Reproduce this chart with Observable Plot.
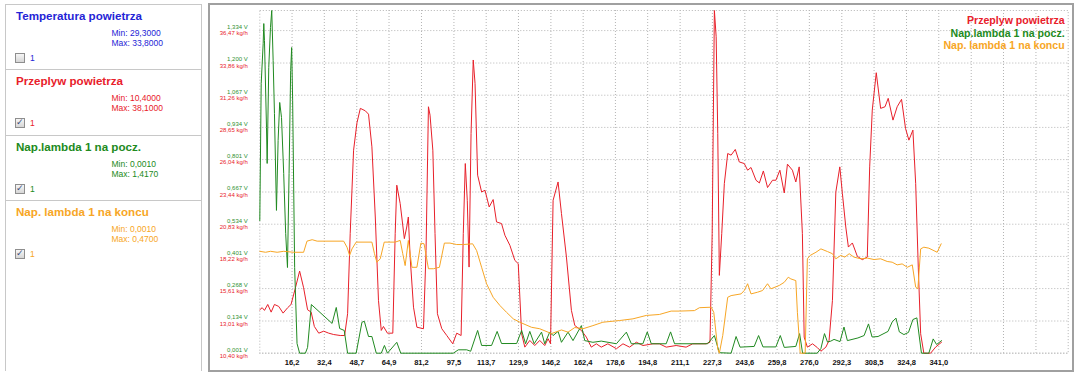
<!DOCTYPE html>
<html><head><meta charset="utf-8">
<script src="https://cdn.jsdelivr.net/npm/d3@7"></script>
<script src="https://cdn.jsdelivr.net/npm/@observablehq/plot@0.6"></script>
<style>
html,body{margin:0;padding:0;background:#fff;width:1074px;height:372px;overflow:hidden;font-family:"Liberation Sans",Arial,sans-serif;}
.abs{position:absolute;white-space:nowrap;}
#panel{position:absolute;left:5px;top:4px;width:195px;height:366px;border:1px solid #c8c8c8;border-bottom:none;}
.sep{position:absolute;left:5px;width:196px;height:0;border-top:1px solid #c8c8c8;}
.title{font-weight:bold;font-size:11.6px;line-height:13px;}
.mm{font-size:8.5px;line-height:10px;}
.cb{position:absolute;width:8px;height:8px;border:1px solid #8e8e8e;background:linear-gradient(#f6f6f6,#d6d6d6);}
.ck{position:absolute;left:0;top:-2px;font-family:"DejaVu Sans";font-size:9px;line-height:10px;color:#3b4a78;font-weight:bold;}
#frame{position:absolute;left:208px;top:3px;width:862px;height:365px;border:2px solid #a0a0a0;}
#chart{position:absolute;left:0;top:0;}
</style>
</head><body>
<div id="panel"></div>
<div id="frame"><div id="chart"></div></div>
<script>
// ---- data ----
const seriesNames = ["Temperatura powietrza", "Przeplyw powietrza", "Nap.lambda 1 na pocz.", "Nap. lambda 1 na koncu"];
const seriesMin = ["29,3000", "10,4000", "0,0010", "0,0010"];
const seriesMax = ["33,8000", "38,1000", "1,4170", "0,4700"];
const seriesChecked = [false, true, true, true];
const seriesColors = ["#2424d6", "#e8202a", "#218a21", "#f7a625"];

const xTicks = [16.2, 32.4, 48.7, 64.9, 81.2, 97.5, 113.7, 129.9, 146.2, 162.4, 178.6, 194.8, 211.1, 227.3, 243.6, 259.8, 276.0, 292.3, 308.5, 324.8, 341.0];
const xTickLabels = ["16,2","32,4","48,7","64,9","81,2","97,5","113,7","129,9","146,2","162,4","178,6","194,8","211,1","227,3","243,6","259,8","276,0","292,3","308,5","324,8","341,0"];
const xGridExtra = [357.3, 373.5, 389.8];
const vTicks = [0.001, 0.134, 0.268, 0.401, 0.534, 0.667, 0.801, 0.934, 1.067, 1.200, 1.334];
const kgTicks = [10.40, 13.01, 15.61, 18.22, 20.83, 23.44, 26.04, 28.65, 31.26, 33.86, 36.47];

// Przeplyw powietrza [time, kg/h]
const airflow = [[0,13.91],[1.2,14.08],[2.35,13.86],[4.0,14.34],[5.7,13.72],[7.36,14.34],[9.5,14.18],[11.7,13.64],[14.0,14.08],[15.7,14.34],[17.9,15.69],[20.0,17.04],[22.0,15.69],[24.0,13.91],[25.8,13.72],[27.4,12.56],[29.6,12.02],[32.1,12.18],[34.6,12.02],[37.1,11.91],[40.4,11.83],[42.6,11.83],[44.1,13.59],[45.4,20.07],[47.1,26.81],[48.8,29.02],[50.5,30.19],[53.0,29.99],[54.6,29.72],[56.3,27.08],[58.0,21.41],[59.6,14.67],[61.0,12.24],[62.1,12.56],[64.1,12.02],[66.8,12.02],[68.0,20.07],[68.8,23.98],[70.5,22.50],[72.6,19.66],[73.8,20.60],[74.6,21.41],[75.5,18.17],[77.2,14.12],[78.9,12.50],[82.2,12.38],[83.5,18.71],[84.7,30.32],[85.5,29.64],[86.9,26.81],[88.0,20.07],[89.2,13.59],[91.4,12.38],[93.9,11.83],[96.9,11.16],[98.9,12.02],[101.1,11.83],[102.2,20.07],[103.2,25.73],[104.2,22.76],[105.1,17.36],[106.1,28.16],[107.2,34.10],[108.1,32.21],[109.4,24.79],[111.4,23.43],[113.1,23.57],[115.2,22.22],[117.2,22.82],[118.9,21.01],[121.4,20.88],[123.1,19.93],[125.6,19.12],[128.1,17.90],[129.8,17.64],[131.5,11.97],[133.1,10.89],[135.6,11.43],[138.1,11.02],[140.6,11.43],[143.1,11.02],[144.8,11.57],[146.0,11.16],[147.3,22.76],[149.8,24.24],[151.5,21.69],[154.0,18.17],[156.5,13.86],[158.2,12.64],[161.5,12.24],[164.0,11.70],[166.5,10.89],[169.0,11.16],[171.5,10.89],[174.8,11.16],[179.1,10.76],[182.4,11.16],[185.7,10.89],[189.1,11.29],[192.4,11.02],[197.4,11.16],[200.7,11.16],[204.1,10.89],[209.1,11.02],[214.1,10.89],[217.4,11.16],[224.1,11.16],[226.1,11.29],[227.2,20.07],[228.3,38.10],[229.2,35.98],[230.0,28.16],[230.8,16.69],[232.0,20.07],[233.3,24.11],[235.0,26.54],[236.7,26.41],[238.8,26.87],[240.8,25.86],[243.3,25.73],[245.0,25.19],[246.7,25.41],[249.2,24.38],[250.9,24.16],[252.9,25.13],[255.0,23.79],[257.5,24.38],[259.2,24.38],[261.2,25.19],[263.4,23.35],[265.0,25.68],[267.5,25.19],[269.2,24.24],[270.9,25.46],[272.5,20.07],[273.4,11.70],[275.0,10.89],[277.6,11.16],[280.1,10.84],[281.8,10.56],[284.3,10.89],[285.9,11.43],[287.6,14.67],[289.3,23.43],[291.3,25.46],[292.6,23.30],[294.3,20.60],[295.6,18.98],[297.6,19.31],[300.1,18.23],[302.6,17.96],[305.1,18.17],[306.3,25.46],[307.6,30.05],[309.6,33.07],[311.8,30.19],[314.0,30.32],[315.6,31.00],[318.0,29.24],[320.1,30.32],[322.3,30.92],[324.3,28.57],[326.0,27.62],[328.0,28.43],[329.4,24.11],[330.7,17.36],[331.9,11.97],[333.5,10.40],[336.9,10.40],[339.4,10.89],[342.4,11.29]];

// Nap.lambda 1 na pocz. [time, V]
const lambdaStart = [[0,0.549],[0.7,1.115],[1.7,1.281],[2.0,1.363],[2.35,1.293],[3.36,0.934],[3.7,0.785],[4.5,1.182],[5.36,1.347],[6.0,1.417],[6.7,1.210],[7.36,0.991],[8.37,0.591],[9.2,0.880],[10.0,1.037],[10.9,0.975],[12.0,0.744],[13.0,0.496],[13.9,0.355],[14.7,0.744],[15.5,1.169],[16.0,1.264],[16.5,1.045],[17.5,0.355],[18.7,0.041],[20.0,0.001],[22.9,0.001],[24.0,0.025],[25.9,0.202],[36.3,0.124],[38.4,0.190],[40.1,0.103],[42.4,0.095],[44.1,0.001],[48.4,0.001],[51.3,0.129],[52.5,0.133],[54.6,0.070],[56.3,0.070],[58.5,0.001],[61.0,0.001],[62.6,0.033],[64.1,0.001],[68.8,0.046],[70.8,0.001],[97.2,0.001],[99.7,0.015],[103.9,0.015],[105.9,0.009],[109.4,0.095],[111.4,0.033],[116.4,0.033],[119.2,0.091],[121.4,0.041],[129.0,0.041],[131.5,0.095],[133.5,0.040],[135.6,0.091],[137.8,0.040],[141.5,0.088],[143.1,0.040],[145.6,0.088],[147.3,0.074],[149.8,0.091],[151.5,0.046],[154.8,0.088],[157.3,0.053],[161.5,0.115],[163.2,0.053],[167.3,0.046],[171.5,0.051],[179.1,0.040],[184.1,0.088],[186.6,0.040],[192.4,0.040],[194.6,0.089],[196.6,0.040],[204.1,0.040],[206.3,0.089],[208.3,0.040],[224.9,0.040],[228.3,0.074],[230.8,0.003],[236.7,0.001],[239.2,0.070],[241.2,0.026],[248.3,0.029],[250.5,0.074],[252.7,0.027],[259.2,0.027],[261.4,0.074],[263.4,0.025],[269.2,0.029],[271.1,0.082],[272.6,0.001],[279.9,0.001],[281.8,0.020],[283.6,0.082],[285.1,0.047],[286.8,0.051],[288.4,0.058],[291.4,0.049],[293.4,0.109],[295.1,0.053],[300.4,0.064],[303.5,0.074],[305.7,0.122],[307.5,0.068],[310.5,0.070],[315.5,0.091],[317.6,0.130],[319.5,0.146],[321.2,0.089],[323.5,0.078],[325.8,0.087],[328.0,0.140],[330.0,0.147],[332.3,0.001],[336.0,0.001],[338.2,0.060],[339.9,0.037],[342.4,0.053]];

// Nap. lambda 1 na koncu [time, V]
const lambdaEnd = [[0,0.422],[2.9,0.418],[5.4,0.422],[8.7,0.418],[12.0,0.422],[17.0,0.418],[22.0,0.418],[23.7,0.464],[26.3,0.470],[28.8,0.464],[42.1,0.464],[43.8,0.439],[45.1,0.405],[46.3,0.432],[48.4,0.460],[56.3,0.460],[57.6,0.412],[58.8,0.377],[60.5,0.391],[62.5,0.460],[68.0,0.460],[70.5,0.467],[71.8,0.412],[73.0,0.363],[74.6,0.467],[76.4,0.356],[78.9,0.356],[80.9,0.456],[82.5,0.453],[84.7,0.350],[87.2,0.350],[90.2,0.356],[92.7,0.456],[95.5,0.456],[98.9,0.450],[102.2,0.450],[106.9,0.453],[108.9,0.425],[111.4,0.356],[113.9,0.288],[117.2,0.232],[120.6,0.198],[123.9,0.170],[127.3,0.143],[130.6,0.129],[136.5,0.108],[140.6,0.102],[146.5,0.082],[151.5,0.097],[154.8,0.088],[158.2,0.107],[162.3,0.102],[167.3,0.115],[172.3,0.129],[180.7,0.136],[187.4,0.143],[194.1,0.157],[200.7,0.161],[206.6,0.175],[210.8,0.175],[218.3,0.177],[220.8,0.189],[226.7,0.191],[228.0,0.170],[230.0,0.019],[230.8,0.001],[232.5,0.074],[235.0,0.232],[236.7,0.239],[241.7,0.246],[243.3,0.260],[245.0,0.288],[246.7,0.246],[250.0,0.253],[252.5,0.260],[255.0,0.288],[256.7,0.267],[260.9,0.281],[263.4,0.294],[265.4,0.315],[266.7,0.308],[269.2,0.301],[270.0,0.170],[271.4,0.001],[273.9,0.001],[275.0,0.391],[276.4,0.405],[279.3,0.418],[281.8,0.432],[285.1,0.421],[287.6,0.412],[289.3,0.391],[291.8,0.405],[293.8,0.398],[296.0,0.412],[298.4,0.398],[301.8,0.391],[305.1,0.394],[308.5,0.388],[311.8,0.391],[315.1,0.380],[317.6,0.377],[320.1,0.366],[322.6,0.370],[325.2,0.356],[327.7,0.366],[329.4,0.274],[330.5,0.267],[331.9,0.432],[333.5,0.439],[336.0,0.435],[340.2,0.418],[342.2,0.453]];

// ---- left panel ----
const secTops = [4, 69, 135, 200];
const body = document.body;
function el(cls, css, html) {
  const d = document.createElement("div");
  d.className = cls; d.style.cssText = css; if (html != null) d.innerHTML = html;
  body.appendChild(d); return d;
}
secTops.slice(1).forEach(t => el("sep", `top:${t}px;`));
seriesNames.forEach((name, i) => {
  const s = secTops[i], c = seriesColors[i];
  el("abs title", `left:16px;top:${s + 5}px;color:${c};`, name);
  el("abs mm", `left:111.5px;top:${s + 23.5}px;color:${c};`, "Min: " + seriesMin[i]);
  el("abs mm", `left:111.5px;top:${s + 34}px;color:${c};`, "Max: " + seriesMax[i]);
  el("cb", `left:15px;top:${s + 49}px;`, seriesChecked[i] ? '<span class="ck">✓</span>' : "");
  el("abs mm", `left:30px;top:${s + 48.5}px;color:${c};`, "1");
});

// ---- chart ----
const vMin = 0.001, vMax = 1.417, kgMin = 10.4, kgMax = 38.1;
const kgToV = kg => vMin + (kg - kgMin) * (vMax - vMin) / (kgMax - kgMin);
const comma = s => s.replace(".", ",");
const gridStyle = {stroke: "#b4b4b4", strokeDasharray: "1,2", strokeWidth: 1};
const legendOffsets = [10.5, 23, 35];
const legendMarks = [1, 2, 3].map((si, k) =>
  Plot.text([seriesNames[si]], {frameAnchor: "top-right", text: d => d, fill: seriesColors[si],
    dx: -3.5, dy: legendOffsets[k], textAnchor: "end", lineAnchor: "middle", fontWeight: "bold", fontSize: 10.6})
);

const chart = Plot.plot({
  width: 862, height: 365,
  marginLeft: 49.3, marginRight: 4.3, marginTop: 5, marginBottom: 17.3,
  style: {background: "transparent", fontFamily: '"Liberation Sans", Arial, sans-serif', overflow: "visible"},
  x: {domain: [0, 406], axis: null},
  y: {domain: [vMin, vMax], axis: null},
  marks: [
    Plot.ruleY(vTicks, gridStyle),
    Plot.ruleX([...xTicks, ...xGridExtra], gridStyle),
    Plot.frame(gridStyle),
    Plot.line(airflow, {x: d => d[0], y: d => kgToV(d[1]), stroke: seriesColors[1], strokeWidth: 1}),
    Plot.line(lambdaStart, {x: d => d[0], y: d => d[1], stroke: seriesColors[2], strokeWidth: 1}),
    Plot.line(lambdaEnd, {x: d => d[0], y: d => d[1], stroke: seriesColors[3], strokeWidth: 1}),
    Plot.text(vTicks, {frameAnchor: "left", y: d => d, text: d => comma(d3.format(".3f")(d)) + " V",
      dx: -12, dy: -3.5, textAnchor: "end", lineAnchor: "middle", fill: "#2f8f2f", fontSize: 6}),
    Plot.text(kgTicks, {frameAnchor: "left", y: d => kgToV(d), text: d => comma(d3.format(".2f")(d)) + " kg/h",
      dx: -12, dy: 2.8, textAnchor: "end", lineAnchor: "middle", fill: "#e8202a", fontSize: 6}),
    Plot.text(xTickLabels, {x: (d, i) => xTicks[i], frameAnchor: "bottom", text: d => d, dy: 9,
      lineAnchor: "middle", fontWeight: "bold", fontSize: 7.5, fill: "#111"}),
    ...legendMarks
  ]
});
document.getElementById("chart").appendChild(chart);
</script>
</body></html>
